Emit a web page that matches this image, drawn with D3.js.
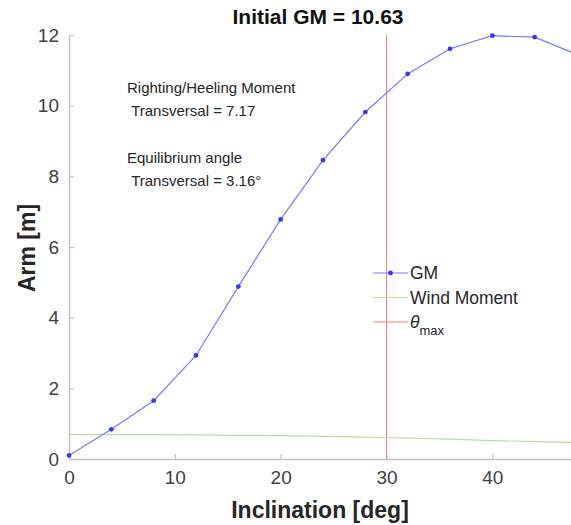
<!DOCTYPE html>
<html>
<head>
<meta charset="utf-8">
<script src="https://cdn.jsdelivr.net/npm/d3@7"></script>
<style>
	body { margin: 0; background: #fff; }
	text { font-family: 'Liberation Sans', Arial, sans-serif; }
</style>
</head>
<body>
<svg id="canvas"></svg>
<script>
// inclination angles [deg]
const angles = [ 0, 4, 8, 12, 16, 20, 24, 28, 32, 36, 40, 44, 48 ];
// GM arm [m]
const gmValues = [ 0.1, 0.84, 1.65, 2.93, 4.88, 6.78, 8.46, 9.82, 10.9, 11.61, 11.98, 11.94, 11.45 ];
// wind heeling arm [m]
const windValues = [ 0.69, 0.69, 0.69, 0.68, 0.67, 0.66, 0.64, 0.62, 0.59, 0.56, 0.52, 0.49, 0.47 ];
const thetaMax = 30;
const xTicks = [ 0, 10, 20, 30, 40 ];
const yTicks = [ 0, 2, 4, 6, 8, 10, 12 ];
const legendNames = [ 'GM', 'Wind Moment', 'theta' ];

const w = 571;
const h = 525;

const svg = d3.select('#canvas').attr('width', w).attr('height', h);

const xScale = d3.scaleLinear().domain([ 0, 48 ]).range([ 69, 577 ]);
const yScale = d3.scaleLinear().domain([ 0, 12 ]).range([ 459, 35 ]);

const axisColor = '#c2c2c2';
const textColor = '#262626';

//axes
const xAxis = d3.axisBottom(xScale).tickValues(xTicks).tickSizeInner(-5).tickSizeOuter(0).tickPadding(12);
const yAxis = d3.axisLeft(yScale).tickValues(yTicks).tickSizeInner(-5).tickSizeOuter(0).tickPadding(10);

const gx = svg.append('g').attr('transform', 'translate(0,' + yScale(0) + ')').call(xAxis);
const gy = svg.append('g').attr('transform', 'translate(' + xScale(0) + ',0)').call(yAxis);

[ gx, gy ].forEach((g) => {
	g.select('.domain').attr('stroke', axisColor).attr('stroke-width', 1.5);
	g.selectAll('.tick line').attr('stroke', axisColor).attr('stroke-width', 1.2);
	g.selectAll('.tick text').attr('fill', '#404040').style('font-size', '19px');
});

// theta max line
svg
	.append('line')
	.attr('x1', xScale(thetaMax))
	.attr('x2', xScale(thetaMax))
	.attr('y1', yScale(12))
	.attr('y2', yScale(0))
	.attr('stroke', '#ff7f7f')
	.attr('stroke-width', 1);

// wind moment
const windLine = d3.line().x((d, i) => xScale(angles[i])).y((d) => yScale(d)).curve(d3.curveMonotoneX);
svg
	.append('path')
	.datum(windValues)
	.attr('d', windLine)
	.attr('fill', 'none')
	.attr('stroke', '#bcdca4')
	.attr('stroke-width', 1.2);

// GM curve
const gmLine = d3.line().x((d, i) => xScale(angles[i])).y((d) => yScale(d));
svg
	.append('path')
	.datum(gmValues)
	.attr('d', gmLine)
	.attr('fill', 'none')
	.attr('stroke', '#7a7aff')
	.attr('stroke-width', 1.2);

svg
	.selectAll('circle.gm')
	.data(gmValues)
	.enter()
	.append('circle')
	.attr('class', 'gm')
	.attr('cx', (d, i) => xScale(angles[i]))
	.attr('cy', (d) => yScale(d))
	.attr('r', 2.4)
	.attr('fill', '#3535ff');

// title + labels
svg
	.append('text')
	.attr('x', 318)
	.attr('y', 24)
	.attr('text-anchor', 'middle')
	.attr('fill', '#111')
	.style('font-size', '21px')
	.style('font-weight', 'bold')
	.text('Initial GM = 10.63');

svg
	.append('text')
	.attr('x', 320)
	.attr('y', 518)
	.attr('text-anchor', 'middle')
	.attr('fill', textColor)
	.style('font-size', '23px')
	.style('font-weight', 'bold')
	.text('Inclination [deg]');

svg
	.append('text')
	.attr('transform', 'translate(35,' + 248 + ') rotate(-90)')
	.attr('text-anchor', 'middle')
	.attr('fill', textColor)
	.style('font-size', '23px')
	.style('font-weight', 'bold')
	.text('Arm [m]');

// annotations
const notes = [
	[ 127, 93, 'Righting/Heeling Moment' ],
	[ 127, 116, '\u00a0Transversal = 7.17' ],
	[ 127, 163, 'Equilibrium angle' ],
	[ 127, 186, '\u00a0Transversal = 3.16\u00b0' ]
];
svg
	.selectAll('text.note')
	.data(notes)
	.enter()
	.append('text')
	.attr('class', 'note')
	.attr('x', (d) => d[0])
	.attr('y', (d) => d[1])
	.attr('fill', textColor)
	.style('font-size', '15px')
	.text((d) => d[2]);

//legend
const legendColors = [ '#7a7aff', '#bcdca4', '#ff7f7f' ];
const legend = svg.append('g').attr('transform', 'translate(373,273)');
legendNames.forEach((name, i) => {
	const row = legend.append('g').attr('transform', 'translate(0,' + i * 24.5 + ')');
	row.append('line').attr('x1', 0).attr('x2', 35).attr('stroke', legendColors[i]).attr('stroke-width', 1.2);
	if (i === 0) {
		row.append('circle').attr('cx', 17.5).attr('cy', 0).attr('r', 2.4).attr('fill', '#3535ff');
	}
	const t = row.append('text').attr('x', 37).attr('y', 6).attr('fill', textColor).style('font-size', '17.5px');
	if (name === 'theta') {
		t.append('tspan').style('font-style', 'italic').text('\u03b8');
		t.append('tspan').attr('dy', 7).style('font-size', '13px').text('max');
	} else {
		t.text(name);
	}
});
</script>
</body>
</html>
